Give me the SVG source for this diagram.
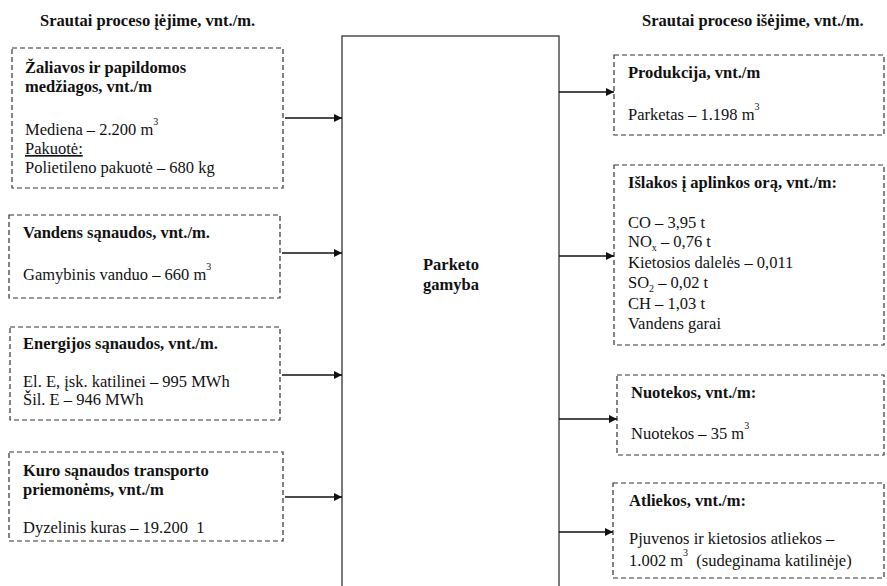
<svg xmlns="http://www.w3.org/2000/svg" width="887" height="586" viewBox="0 0 887 586" font-family="'Liberation Serif', 'Times New Roman', serif">
<style>
text{font-family:"Liberation Serif","Times New Roman",serif;font-size:16.5px;fill:#111}
.b{font-weight:bold}
.pre{white-space:pre}
.box{fill:none;stroke:#333;stroke-width:1.2;stroke-dasharray:5 3}
.proc{fill:none;stroke:#333;stroke-width:1.3}
.arr{stroke:#111;stroke-width:1.4;fill:none;marker-end:url(#ah)}
.sup{font-size:10px}
</style>
<defs>
<marker id="ah" viewBox="0 0 10 10" refX="10" refY="5" markerWidth="10" markerHeight="8" markerUnits="userSpaceOnUse" orient="auto">
<path d="M0,0 L10,5 L0,10 z" fill="#111"/>
</marker>
</defs>
<rect width="887" height="586" fill="#fff"/>
<text class="b" x="40" y="26">Srautai proceso įėjime, vnt./m.</text>
<text class="b" x="642" y="26">Srautai proceso išėjime, vnt./m.</text>

<g id="process">
<rect class="proc" x="342" y="36" width="217" height="560"/>
<text class="b" x="423" y="270">Parketo</text>
<text class="b" x="423" y="290">gamyba</text>
</g>

<g id="in1">
<rect class="box" x="12" y="48" width="271" height="140"/>
<text class="b" x="25" y="73">Žaliavos ir papildomos</text>
<text class="b" x="25" y="92">medžiagos, vnt./m</text>
<text x="25" y="135">Mediena – 2.200 m<tspan class="sup" dy="-10">3</tspan></text>
<text x="25" y="154" text-decoration="underline">Pakuotė:</text>
<text x="25" y="173">Polietileno pakuotė – 680 kg</text>
</g>
<g id="in2">
<rect class="box" x="9" y="215" width="271" height="83"/>
<text class="b" x="23" y="238">Vandens sąnaudos, vnt./m.</text>
<text x="23" y="280">Gamybinis vanduo – 660 m<tspan class="sup" dy="-10">3</tspan></text>
</g>
<g id="in3">
<rect class="box" x="10" y="327" width="270" height="93"/>
<text class="b" x="23" y="349">Energijos sąnaudos, vnt./m.</text>
<text x="23" y="387">El. E, įsk. katilinei – 995 MWh</text>
<text x="23" y="405">Šil. E – 946 MWh</text>
</g>
<g id="in4">
<rect class="box" x="9" y="452" width="274" height="89"/>
<text class="b" x="23" y="476">Kuro sąnaudos transporto</text>
<text class="b" x="23" y="495">priemonėms, vnt./m</text>
<text class="pre" x="23" y="533">Dyzelinis kuras – 19.200  1</text>
</g>

<g id="out1">
<rect class="box" x="614" y="55" width="270" height="80"/>
<text class="b" x="628" y="78">Produkcija, vnt./m</text>
<text x="628" y="120">Parketas – 1.198 m<tspan class="sup" dy="-10">3</tspan></text>
</g>
<g id="out2">
<rect class="box" x="614" y="165" width="270" height="180"/>
<text class="b" x="628" y="188">Išlakos į aplinkos orą, vnt./m:</text>
<text x="628" y="228">CO – 3,95 t</text>
<text x="628" y="247">NO<tspan class="sup" dy="4">x</tspan><tspan dy="-4"> – 0,76 t</tspan></text>
<text x="628" y="268">Kietosios dalelės – 0,011</text>
<text x="628" y="288">SO<tspan class="sup" dy="4">2</tspan><tspan dy="-4"> – 0,02 t</tspan></text>
<text x="628" y="309">CH – 1,03 t</text>
<text x="628" y="329">Vandens garai</text>
</g>
<g id="out3">
<rect class="box" x="617" y="375" width="267" height="80"/>
<text class="b" x="631" y="398">Nuotekos, vnt./m:</text>
<text x="631" y="439">Nuotekos – 35 m<tspan class="sup" dy="-10">3</tspan></text>
</g>
<g id="out4">
<rect class="box" x="613" y="483" width="271" height="95"/>
<text class="b" x="629" y="506">Atliekos, vnt./m:</text>
<text x="629" y="544">Pjuvenos ir kietosios atliekos –</text>
<text class="pre" x="629" y="566">1.002 m<tspan class="sup" dy="-10">3</tspan><tspan dy="10">  (sudeginama katilinėje)</tspan></text>
</g>

<g id="connectors">
<line class="arr" x1="285" y1="118" x2="342" y2="118"/>
<line class="arr" x1="282" y1="253" x2="342" y2="253"/>
<line class="arr" x1="282" y1="375" x2="342" y2="375"/>
<line class="arr" x1="285" y1="497" x2="342" y2="497"/>
<line class="arr" x1="559" y1="92" x2="614" y2="92"/>
<line class="arr" x1="559" y1="256" x2="614" y2="256"/>
<line class="arr" x1="559" y1="419" x2="617" y2="419"/>
<line class="arr" x1="559" y1="532" x2="613" y2="532"/>
</g>
</svg>
